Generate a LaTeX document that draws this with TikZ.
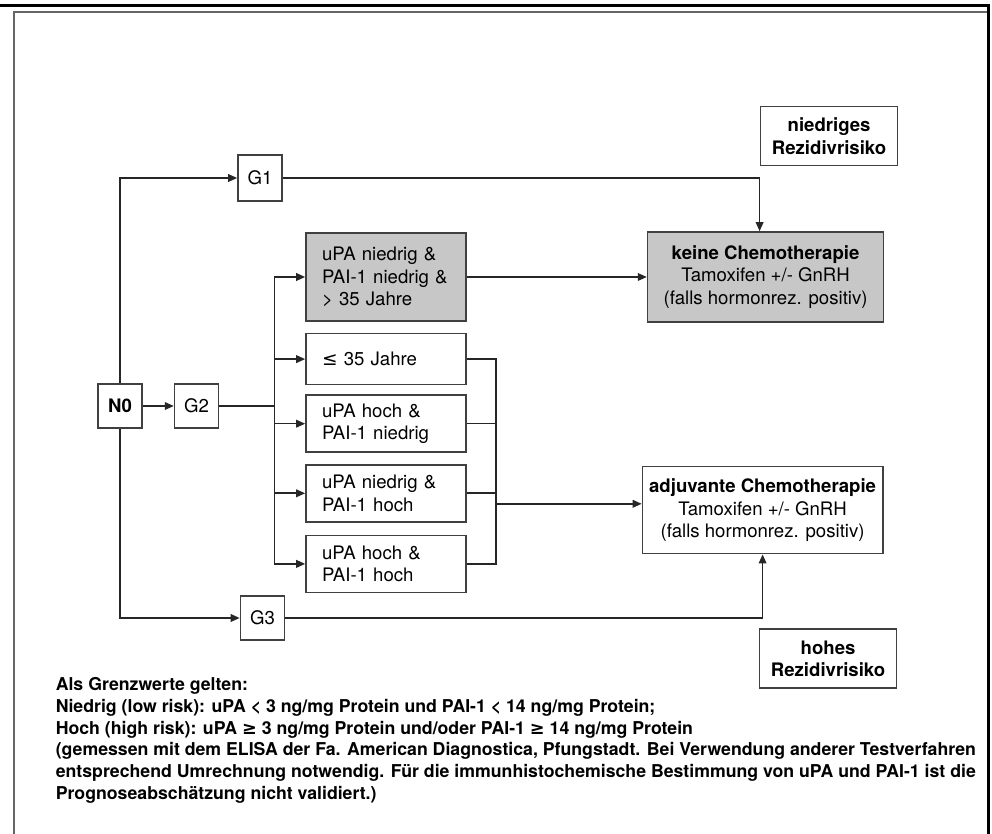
\documentclass[tikz,border=0pt]{standalone}
\usepackage{fontspec}
\setmainfont{TeX Gyre Heros}
\newfontfamily\symfont{DejaVu Sans}
\usetikzlibrary{positioning,arrows.meta}

\begin{document}
\begin{tikzpicture}[
    line width=0.8pt,
    >={Triangle[length=4.5pt,width=3.8pt]},
    font=\fontsize{9.3}{11.3}\selectfont,
    gbox/.style={rectangle, draw=black!75, minimum width=22pt, minimum height=22pt, inner sep=2pt},
    cond/.style={rectangle, draw=black!75, text width=64pt, inner xsep=8pt, inner ysep=3pt, align=left, minimum height=28.5pt},
    therapy/.style={rectangle, draw=black!75, minimum width=118pt, minimum height=43.5pt, align=center},
    risk/.style={rectangle, draw=black!75, minimum width=68.5pt, minimum height=29.5pt, align=center, font=\fontsize{9.3}{11.3}\selectfont\bfseries},
    flow/.style={->, black!85}
]
\useasboundingbox (0,0) rectangle (496pt,-417pt);

% Frame
\draw[line width=1.5pt] (0,-2.75pt) -- (494.25pt,-2.75pt) -- (494.25pt,-417pt);
\draw[black!60, line width=0.9pt] (7pt,-417pt) -- (7pt,-6pt) -- (493.5pt,-6pt);

% Grading
\node[gbox] (N0) at (60pt,-203pt) {\textbf{N0}};
\node[gbox, right=15.5pt of N0] (G2) {G2};
\node[gbox, minimum height=23pt] (G1) at (130pt,-89pt) {G1};
\node[gbox] (G3) at (131.25pt,-309pt) {G3};

% uPA / PAI-1
\node[cond, fill=black!22, minimum height=44pt] (n1) at (193pt,-138.5pt) {uPA niedrig \&\\PAI-1 niedrig \&\\> 35 Jahre};
\node[cond, minimum height=25.5pt, below=5.5pt of n1] (n2) {{\symfont ≤} 35 Jahre};
\node[cond, below=4.5pt of n2] (n3) {uPA hoch \&\\PAI-1 niedrig};
\node[cond, below=5.5pt of n3] (n4) {uPA niedrig \&\\PAI-1 hoch};
\node[cond, below=6pt of n4] (n5) {uPA hoch \&\\PAI-1 hoch};

% Therapie
\node[therapy, fill=black!22, minimum height=45pt, right=90pt of n1] (keine) {\textbf{keine Chemotherapie}\\Tamoxifen +/- GnRH\\(falls hormonrez. positiv)};
\node[therapy, below=71.5pt of keine, xshift=-1.5pt] (adj) {\textbf{adjuvante Chemotherapie}\\Tamoxifen +/- GnRH\\(falls hormonrez. positiv)};

% Rezidivrisiko
\node[risk, above=32.5pt of keine, xshift=31.75pt] (low) {niedriges\\Rezidivrisiko};
\node[risk, below=37pt of adj, xshift=32.75pt] (high) {hohes\\Rezidivrisiko};

% Grenzwerte
\node[anchor=north west, align=left, inner sep=0pt, font=\fontsize{8.85}{10.9}\selectfont\bfseries] (limits) at (27.5pt,-338.3pt) {Als Grenzwerte gelten:\\
Niedrig (low risk): uPA < 3 ng/mg Protein und PAI-1 < 14 ng/mg Protein;\\
Hoch (high risk): uPA {\symfont ≥} 3 ng/mg Protein und/oder PAI-1 {\symfont ≥} 14 ng/mg Protein\\
(gemessen mit dem ELISA der Fa. American Diagnostica, Pfungstadt. Bei Verwendung anderer Testverfahren\\
entsprechend Umrechnung notwendig. Für die immunhistochemische Bestimmung von uPA und PAI-1 ist die\\
Prognoseabschätzung nicht validiert.)};

% Arrows
\path (G2.east) ++(27.5pt,0) coordinate (split);
\path (n4.east) ++(14.5pt,-5.25pt) coordinate (join);
\draw[flow] (N0.north) |- (G1.west);
\draw[flow] (N0) -- (G2);
\draw[flow] (N0.south) |- (G3.west);
\draw[black!85] (G2.east) -- (split);
\foreach \n in {n1,n2,n3,n4,n5}
    \draw[flow] (split) |- (\n.west);
\draw[flow] (n1.east) -- (n1.east -| keine.west);
\draw[flow] (G1.east) -| ([xshift=-3pt]keine.north);
\foreach \n in {n2,n3,n4,n5}
    \draw[black!85] (\n.east) -| (join);
\draw[flow] (join) -- (join -| adj.west);
\draw[flow] (G3.east) -| (adj.south);

\end{tikzpicture}
\end{document}
